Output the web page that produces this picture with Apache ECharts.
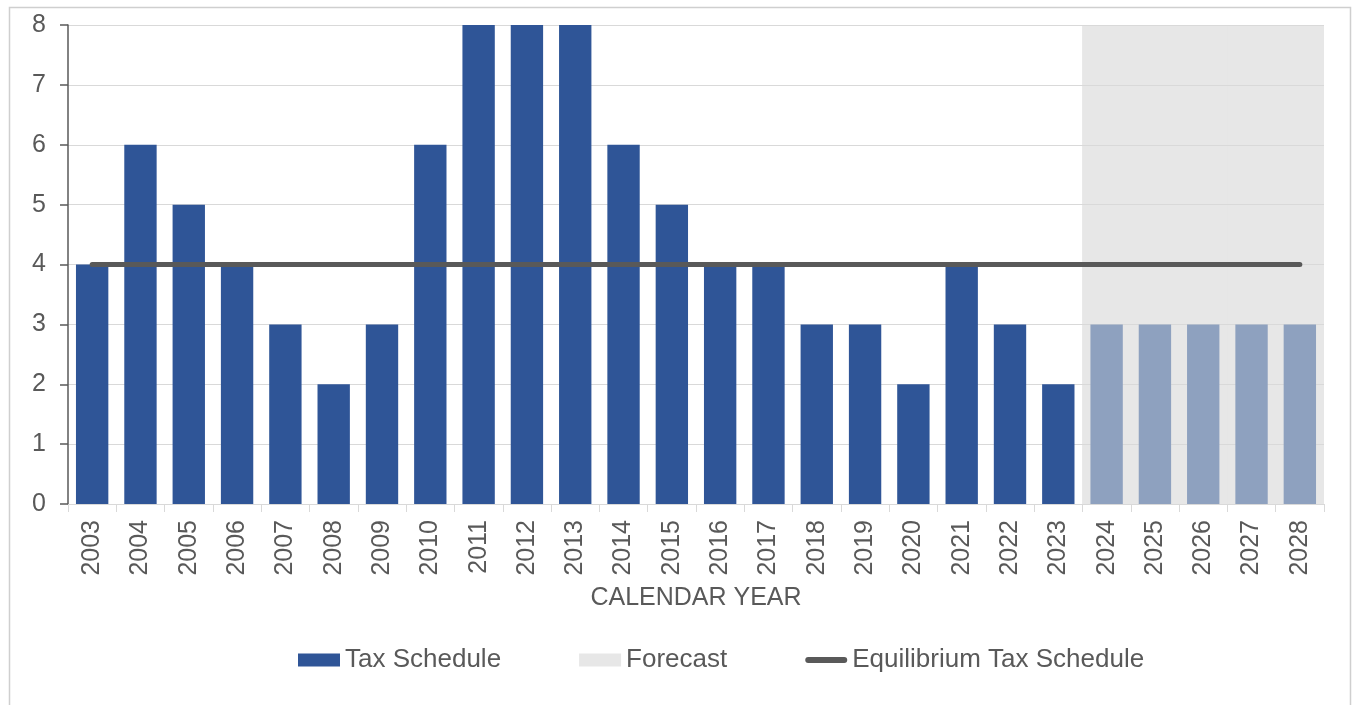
<!DOCTYPE html>
<html>
<head>
<meta charset="utf-8">
<script src="https://cdn.jsdelivr.net/npm/echarts@6/dist/echarts.min.js"></script>
<style>
html,body{margin:0;padding:0;background:#fff;}
#chart{width:1353px;height:705px;}
</style>
</head>
<body>
<div id="chart"></div>
<script>
const years = ['2003','2004','2005','2006','2007','2008','2009','2010','2011','2012','2013','2014','2015','2016','2017','2018','2019','2020','2021','2022','2023','2024','2025','2026','2027','2028'];
const taxSchedule = [4,6,5,4,3,2,3,6,8,8,8,6,5,4,4,3,3,2,4,3,2,3,3,3,3,3];
const forecastYears = ['2024','2025','2026','2027','2028'];
const forecastTop = 8;
const equilibrium = [4,4,4,4,4,4,4,4,4,4,4,4,4,4,4,4,4,4,4,4,4,4,4,4,4,4];
const yTicks = [0,1,2,3,4,5,6,7,8];

const TEXT = '#595959';
const FONT = 'Liberation Sans, Arial, sans-serif';

const taxData = taxSchedule.map((v, i) => forecastYears.includes(years[i])
  ? { value: v, itemStyle: { color: '#8EA1BF' } }
  : v);
const forecastData = years.map(y => forecastYears.includes(y) ? forecastTop : null);

const lineIcon = 'path://M0,0 M42,13 M3,3.5 L39,3.5 A3,3 0 0 1 39,9.5 L3,9.5 A3,3 0 0 1 3,3.5 Z';

const chart = echarts.init(document.getElementById('chart'));
chart.setOption({
  animation: false,
  textStyle: { fontFamily: FONT },
  graphic: [{
    type: 'rect',
    shape: { x: 9.5, y: 7.5, width: 1341, height: 720 },
    style: { fill: 'none', stroke: '#CFCFCF', lineWidth: 1.5 },
    silent: true, z: -10
  }],
  grid: { left: 68, right: 29, top: 25, bottom: 201, containLabel: false },
  legend: {
    left: 298, top: 647, padding: 0,
    itemWidth: 42, itemHeight: 13, itemGap: 78,
    textStyle: { color: TEXT, fontSize: 26, fontFamily: FONT },
    data: [
      { name: 'Tax Schedule', icon: 'rect' },
      { name: 'Forecast', icon: 'rect' },
      { name: 'Equilibrium Tax Schedule', icon: lineIcon, itemStyle: { color: TEXT } }
    ]
  },
  xAxis: [{
    type: 'category',
    data: years,
    z: 1,
    boundaryGap: true,
    name: 'CALENDAR YEAR',
    nameLocation: 'middle',
    nameGap: 82,
    nameTextStyle: { color: TEXT, fontSize: 25, fontFamily: FONT },
    axisLine: { lineStyle: { color: '#D9D9D9', width: 1 } },
    axisTick: { show: true, length: 8, lineStyle: { color: '#D9D9D9' } },
    axisLabel: { rotate: 90, color: TEXT, fontSize: 25, fontFamily: FONT, margin: 16 },
    splitLine: { show: false }
  }, {
    type: 'category',
    data: years,
    show: false,
    boundaryGap: true
  }],
  yAxis: {
    type: 'value',
    min: 0, max: 8, interval: 1,
    z: 1,
    axisLine: { show: true, lineStyle: { color: TEXT, width: 1.5 } },
    axisTick: { show: true, length: 8, lineStyle: { color: TEXT, width: 1.5 } },
    axisLabel: { color: TEXT, fontSize: 25, fontFamily: FONT, margin: 22,
      formatter: v => yTicks.includes(v) ? String(v) : '' },
    splitLine: { show: true, lineStyle: { color: '#D9D9D9', width: 1 } }
  },
  series: [{
    name: 'Forecast',
    type: 'bar',
    xAxisIndex: 1,
    data: forecastData,
    barWidth: 49,
    itemStyle: { color: '#E7E7E7' },
    z: 0,
    silent: true
  }, {
    name: 'Tax Schedule',
    type: 'bar',
    xAxisIndex: 0,
    data: taxData,
    barWidth: '67%',
    itemStyle: { color: '#2F5597' },
    z: 2
  }, {
    name: 'Equilibrium Tax Schedule',
    type: 'line',
    xAxisIndex: 0,
    data: equilibrium,
    symbol: 'none',
    lineStyle: { color: TEXT, width: 5, cap: 'round' },
    itemStyle: { color: TEXT },
    z: 3
  }]
});
</script>
</body>
</html>
